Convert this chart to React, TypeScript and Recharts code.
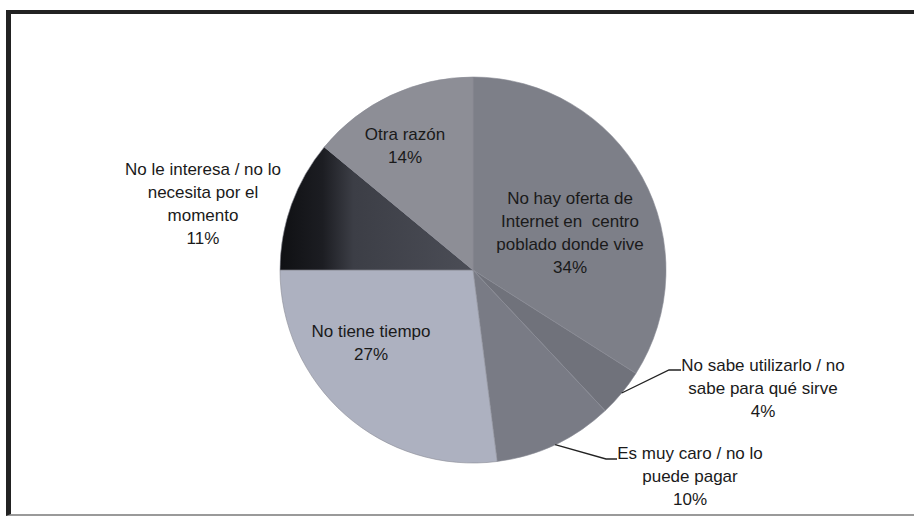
import { Cell, Pie, PieChart } from "recharts";

const CATEGORIES = [
  "No hay oferta de\nInternet en  centro\npoblado donde vive",
  "No sabe utilizarlo / no\nsabe para qué sirve",
  "Es muy caro / no lo\npuede pagar",
  "No tiene tiempo",
  "No le interesa / no lo\nnecesita por el\nmomento",
  "Otra razón",
];
const PERCENTS = [34, 4, 10, 27, 11, 14];

const data = CATEGORIES.map((name, i) => ({ name, value: PERCENTS[i] }));

const COLORS = ["#7d7f88", "#70727b", "#797b85", "#adb1c0", "url(#darkSlice)", "#8d8e96"];

// label placement relative to the pie centre (hand tuned to the picture)
const LABEL_LAYOUT: { dx: number; dy: number; elbow?: [number, number]; endX?: number }[] = [
  { dx: 97, dy: -37 },
  { dx: 290, dy: 118, elbow: [196, 100], endX: 208 },
  { dx: 217, dy: 206, elbow: [133, 189], endX: 144 },
  { dx: -102, dy: 73 },
  { dx: -270, dy: -66 },
  { dx: -68, dy: -124 },
];

const RAD = Math.PI / 180;
const LINE_H = 23;
const FONT = "'Liberation Sans', Arial, sans-serif";

function renderLabel(props: any) {
  const { cx, cy, midAngle, outerRadius, index, value, name } = props;
  const lay = LABEL_LAYOUT[index];
  const lines = [...String(name).split("\n"), `${value}%`];
  const x = cx + lay.dx;
  const y0 = cy + lay.dy - ((lines.length - 1) * LINE_H) / 2;
  let leader = null;
  if (lay.elbow) {
    const sx = cx + outerRadius * Math.cos(-midAngle * RAD);
    const sy = cy + outerRadius * Math.sin(-midAngle * RAD);
    const ex = cx + lay.elbow[0];
    const ey = cy + lay.elbow[1];
    leader = (
      <polyline
        points={`${sx},${sy} ${ex},${ey} ${cx + (lay.endX ?? 0)},${ey}`}
        fill="none"
        stroke="#222"
        strokeWidth={1.3}
      />
    );
  }
  return (
    <g key={`lbl-${index}`}>
      {leader}
      {lines.map((ln, i) => (
        <text
          key={i}
          x={x}
          y={y0 + i * LINE_H}
          textAnchor="middle"
          dominantBaseline="central"
          fill="#1a1a1a"
          fontSize={17}
          fontFamily={FONT}
          style={{ whiteSpace: "pre" }}
        >
          {ln}
        </text>
      ))}
    </g>
  );
}

export default function App() {
  return (
    <div style={{ position: "relative", width: 914, height: 517, background: "#fff", overflow: "hidden" }}>
      <style>{"body{margin:0}"}</style>
      <div
        style={{
          position: "absolute",
          left: 6,
          top: 10,
          width: 930,
          height: 500,
          borderLeft: "5px solid #222",
          borderTop: "4px solid #222",
          borderBottom: "2px solid #9a9a9a",
        }}
      />
      <PieChart width={914} height={517} style={{ position: "absolute", left: 0, top: 0 }}>
        <defs>
          <linearGradient id="darkSlice" x1="0" y1="0" x2="1" y2="0">
            <stop offset="0%" stopColor="#0f1013" />
            <stop offset="22%" stopColor="#1c1d22" />
            <stop offset="38%" stopColor="#3c3e46" />
            <stop offset="100%" stopColor="#4b4d56" />
          </linearGradient>
        </defs>
        <Pie
          data={data}
          dataKey="value"
          nameKey="name"
          cx={468}
          cy={265}
          outerRadius={193}
          startAngle={90}
          endAngle={-270}
          stroke="#8a8c95"
          strokeWidth={0.6}
          label={renderLabel}
          labelLine={false}
          isAnimationActive={false}
        >
          {data.map((_, i) => (
            <Cell key={i} fill={COLORS[i]} />
          ))}
        </Pie>
      </PieChart>
    </div>
  );
}
